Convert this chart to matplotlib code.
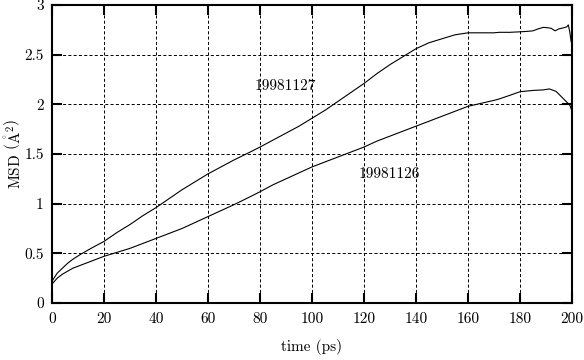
import matplotlib
matplotlib.use("Agg")
import matplotlib.pyplot as plt

plt.rcParams['font.family'] = ['cmr10', 'DejaVu Serif']
plt.rcParams['mathtext.fontset'] = 'cm'
plt.rcParams['axes.formatter.use_mathtext'] = True
plt.rcParams['lines.scale_dashes'] = False

# --- data ---
t_27 = [0, 1, 2, 4, 6, 8, 11, 15, 20, 25, 30, 35, 40, 45, 50, 55, 60, 65, 70, 77,
        80, 85, 90, 95, 100, 105, 110, 115, 120, 125, 130, 135, 140, 145, 150, 155,
        160, 165, 170, 172, 176, 180, 183, 185, 187, 189, 191, 192, 193.5, 195,
        196.7, 198, 198.6, 199.2, 199.6, 200]
msd_27 = [0.22, 0.26, 0.30, 0.35, 0.40, 0.44, 0.49, 0.55, 0.62, 0.71, 0.79, 0.88, 0.96,
          1.05, 1.14, 1.22, 1.30, 1.37, 1.44, 1.53, 1.57, 1.64, 1.71, 1.78, 1.86,
          1.94, 2.03, 2.12, 2.21, 2.31, 2.40, 2.48, 2.56, 2.62, 2.66, 2.70, 2.72,
          2.72, 2.72, 2.725, 2.725, 2.73, 2.735, 2.74, 2.76, 2.775, 2.77, 2.765,
          2.74, 2.76, 2.77, 2.78, 2.80, 2.72, 2.64, 2.60]

t_26 = [0, 1, 2, 4, 6, 8, 11, 15, 20, 25, 30, 35, 40, 45, 50, 55, 60, 65, 70, 77,
        80, 85, 90, 95, 100, 105, 110, 115, 120, 125, 130, 135, 140, 145, 150, 155,
        160, 165, 170, 172, 176, 180, 185, 188.8, 191.3, 193.9, 195.8, 197.7,
        199.2, 200]
msd_26 = [0.19, 0.22, 0.25, 0.29, 0.32, 0.35, 0.38, 0.42, 0.47, 0.51, 0.55, 0.60, 0.65,
          0.70, 0.75, 0.81, 0.87, 0.93, 0.99, 1.08, 1.12, 1.19, 1.25, 1.31, 1.37,
          1.42, 1.47, 1.52, 1.57, 1.63, 1.68, 1.73, 1.78, 1.83, 1.88, 1.93, 1.98,
          2.01, 2.04, 2.054, 2.09, 2.127, 2.14, 2.145, 2.155, 2.13, 2.08, 2.03,
          1.99, 1.93]

x_ticks = [0, 20, 40, 60, 80, 100, 120, 140, 160, 180, 200]
x_tick_labels = ['0', '20', '40', '60', '80', '100', '120', '140', '160', '180', '200']
y_ticks = [0, 0.5, 1, 1.5, 2, 2.5, 3]
y_tick_labels = ['0', '0.5', '1', '1.5', '2', '2.5', '3']

label_27 = '19981127'
label_26 = '19981126'

# --- figure ---
fig = plt.figure(figsize=(5.84, 3.60), dpi=100)
ax = fig.add_axes([52 / 584, 57 / 360, 520 / 584, 298 / 360])

ax.plot(t_27, msd_27, color='black', lw=0.8)
ax.plot(t_26, msd_26, color='black', lw=0.8)

ax.set_xlim(0, 200)
ax.set_ylim(0, 3)
ax.set_xticks(x_ticks)
ax.set_xticklabels(x_tick_labels)
ax.set_yticks(y_ticks)
ax.set_yticklabels(y_tick_labels)

ax.grid(True, color='black', lw=0.7, linestyle=(0, (2.2, 1.6)))
ax.set_axisbelow(True)

for s in ax.spines.values():
    s.set_linewidth(1.5)
ax.tick_params(direction='in', length=7, width=1.5, top=True, right=True,
               labelsize=11)
ax.tick_params(axis='x', pad=7)
ax.tick_params(axis='y', pad=6)

ax.text(78, 2.18, label_27, ha='left', va='center', fontsize=11)
ax.text(118, 1.30, label_26, ha='left', va='center', fontsize=11)

ax.set_xlabel('time (ps)', fontsize=11, labelpad=9)
ax.set_ylabel(r'MSD $\left(\mathring{\mathrm{A}}^{2}\right)$', fontsize=11, labelpad=0)

fig.savefig('out.png', dpi=100)
